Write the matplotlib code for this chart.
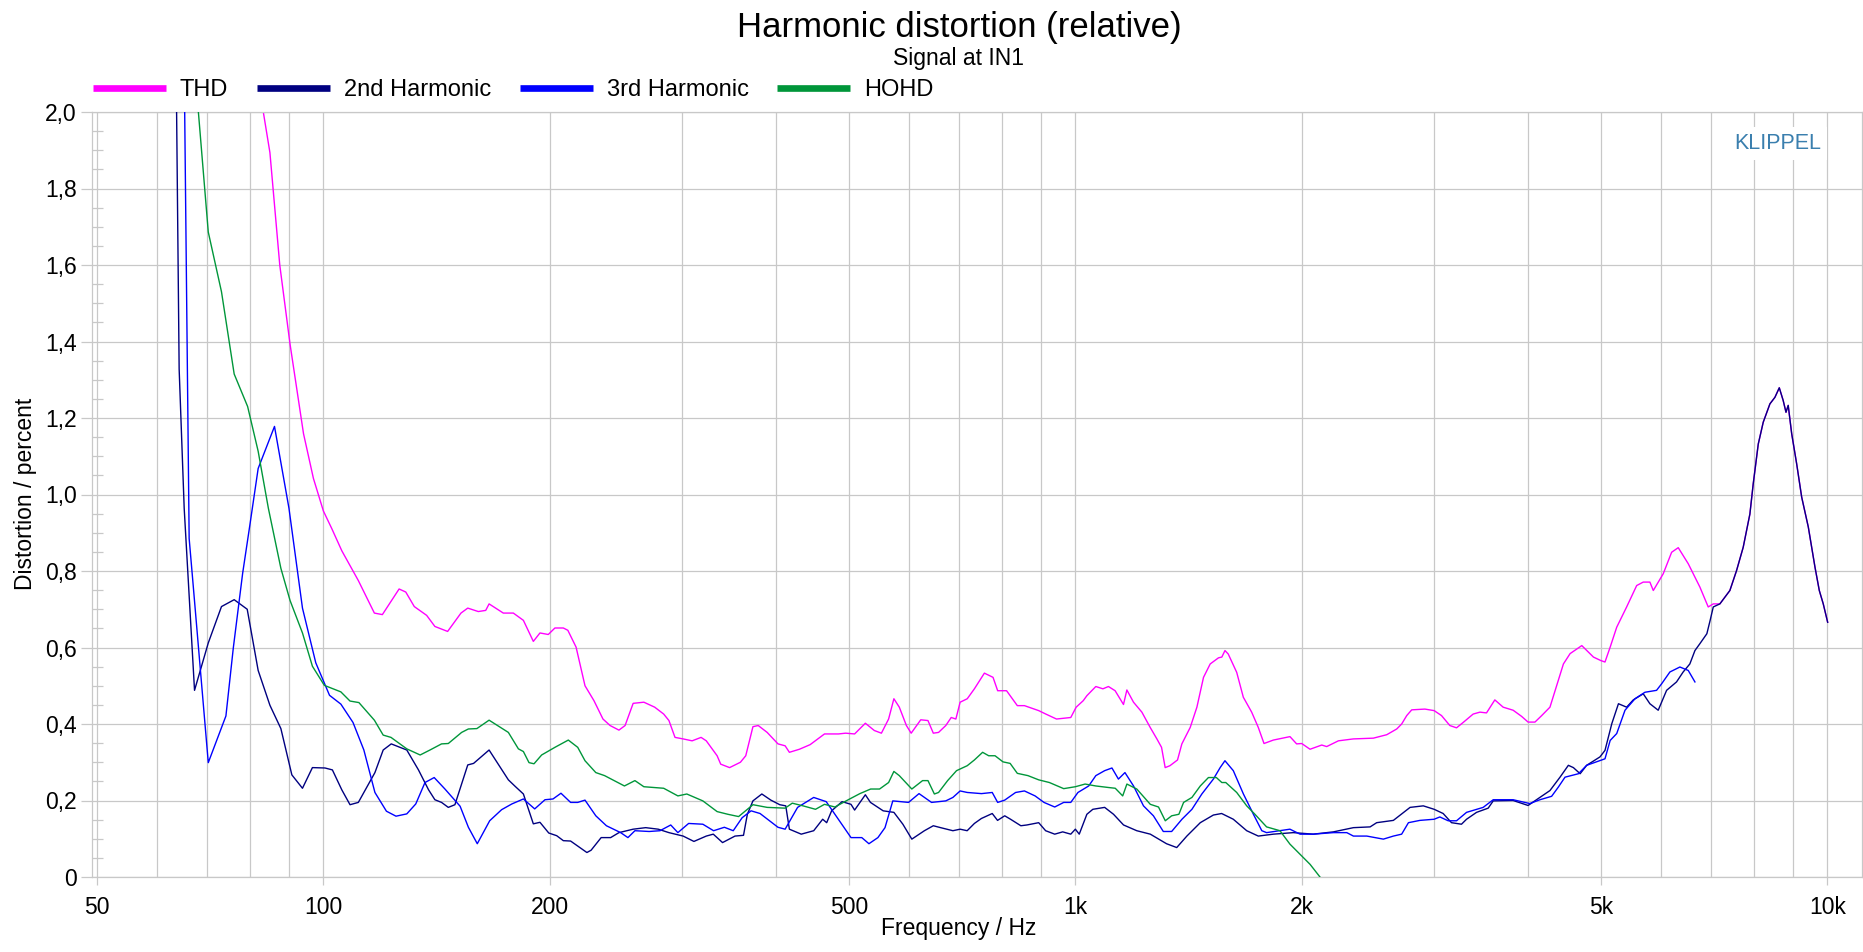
import matplotlib
matplotlib.use("Agg")
import matplotlib.pyplot as plt
from matplotlib.ticker import FixedLocator, FuncFormatter, NullFormatter
from matplotlib.lines import Line2D

plt.rcParams['font.family'] = ['Liberation Sans', 'DejaVu Sans']

# ---------------- data ----------------
title = "Harmonic distortion (relative)"
subtitle = "Signal at IN1"
series_names = ["THD", "2nd Harmonic", "3rd Harmonic", "HOHD"]
series_colors = ["#ff00ff", "#000080", "#0000ff", "#00963a"]

x_major_ticks = [50, 100, 200, 500, 1000, 2000, 5000, 10000]
x_major_labels = ["50", "100", "200", "500", "1k", "2k", "5k", "10k"]
x_minor_ticks = [60, 70, 80, 90, 300, 400, 600, 700, 800, 900,
                 3000, 4000, 6000, 7000, 8000, 9000]
y_major_ticks = [0, 0.2, 0.4, 0.6, 0.8, 1.0, 1.2, 1.4, 1.6, 1.8, 2.0]
y_major_labels = ["0", "0,2", "0,4", "0,6", "0,8", "1,0", "1,2", "1,4", "1,6", "1,8", "2,0"]

thd_freq = [81.5, 83.2, 84.9, 87.5, 90.3, 94.1, 97.0, 100, 102.6, 105.8, 111.3, 116.9, 119.8,
            126.1, 128.7, 132.1, 137.2, 140.7, 146.3, 152.4, 155.6, 160.7, 164.4, 166.1, 173.5,
            178.9, 184.5, 190.2, 194.1, 199.1, 203.2, 208.5, 211.4, 216.8, 222.8, 229.0, 235.4,
            240.6, 247.2, 251.9, 258.2, 266.8, 275.8, 283.5, 288.1, 293.5, 300.9, 309.3, 317.9,
            323.0, 333.9, 337.6, 346.9, 358.6, 364.5, 372.6, 378.7, 389.2, 402.3, 411.2, 416.6,
            429.6, 443.9, 463.9, 484.2, 494.9, 508.7, 525.7, 540.3, 552.2, 564.5, 573.7, 583.3,
            596.1, 604.9, 622.9, 636.8, 647.3, 657.8, 672.5, 683.8, 693.6, 702.7, 718.2, 734.1,
            756.9, 777.2, 788.3, 810.1, 837.2, 855.6, 893.8, 913.5, 943.9, 986.1, 1002.5, 1024.5,
            1035.9, 1064.7, 1088, 1106.6, 1129.5, 1158.8, 1170.9, 1194.9, 1225.9, 1257.6, 1283.6,
            1302, 1316.6, 1336, 1367.3, 1385.6, 1421.5, 1450.9, 1480.6, 1511.2, 1550, 1566,
            1581.1, 1597, 1639, 1672.5, 1715.8, 1751, 1781.9, 1833.6, 1929.4, 1969, 2000, 2051.5,
            2126.5, 2159, 2237.6, 2342.8, 2490.7, 2594.8, 2675.4, 2716, 2758.5, 2801, 2916, 3000,
            3068.6, 3147.8, 3213, 3278.8, 3380.8, 3452, 3522, 3612.7, 3706, 3821, 3921, 4000,
            4085, 4170, 4277, 4388, 4457, 4549, 4715, 4886, 4996, 5062, 5143, 5247, 5409, 5578,
            5691, 5808, 5869, 6051, 6208, 6335, 6532, 6769, 6944, 7052, 7196, 7420, 7573, 7729,
            7889, 7970, 8094, 8218, 8388, 8517, 8632, 8735, 8811, 8871, 8966, 9104, 9245, 9434,
            9629, 9757, 9876, 10010]
thd_val = [2.10, 2.00, 1.894, 1.60, 1.393, 1.159, 1.042, 0.957, 0.911, 0.853, 0.775, 0.690, 0.686,
           0.753, 0.745, 0.707, 0.684, 0.655, 0.642, 0.690, 0.703, 0.694, 0.697, 0.714, 0.690,
           0.690, 0.671, 0.616, 0.638, 0.634, 0.651, 0.651, 0.645, 0.601, 0.500, 0.461, 0.413,
           0.396, 0.384, 0.396, 0.454, 0.457, 0.444, 0.426, 0.409, 0.365, 0.361, 0.356, 0.365,
           0.356, 0.317, 0.295, 0.286, 0.300, 0.317, 0.393, 0.396, 0.378, 0.348, 0.343, 0.326,
           0.334, 0.346, 0.374, 0.374, 0.376, 0.374, 0.402, 0.383, 0.376, 0.413, 0.466, 0.444,
           0.396, 0.376, 0.411, 0.409, 0.376, 0.378, 0.396, 0.417, 0.413, 0.457, 0.466, 0.492,
           0.533, 0.522, 0.487, 0.487, 0.448, 0.448, 0.435, 0.426, 0.413, 0.417, 0.444, 0.461,
           0.474, 0.498, 0.492, 0.498, 0.487, 0.451, 0.489, 0.457, 0.431, 0.391, 0.361,
           0.339, 0.286, 0.291, 0.306, 0.348, 0.391, 0.444, 0.522, 0.557, 0.573, 0.575,
           0.592, 0.583, 0.535, 0.470, 0.431, 0.391, 0.349, 0.358, 0.367, 0.348, 0.349, 0.334,
           0.345, 0.341, 0.356, 0.361, 0.363, 0.372, 0.387, 0.400, 0.422, 0.437, 0.439, 0.435,
           0.422, 0.396, 0.390, 0.404, 0.426, 0.431, 0.429, 0.463, 0.444, 0.436, 0.420, 0.405,
           0.405, 0.422, 0.444, 0.514, 0.557, 0.584, 0.605, 0.575, 0.566, 0.562, 0.601, 0.653,
           0.706, 0.762, 0.771, 0.771, 0.749, 0.793, 0.849, 0.861, 0.819, 0.758, 0.706, 0.714,
           0.714, 0.749, 0.801, 0.862, 0.949, 1.028, 1.132, 1.189, 1.237, 1.254, 1.279, 1.246,
           1.215, 1.233, 1.159, 1.080, 0.993, 0.915, 0.810, 0.749, 0.714, 0.666]

h2_freq = [63.3, 63.8, 64.3, 65.3, 67.4, 70.3, 73.2, 76.1, 79.2, 81.9, 84.9, 87.8, 90.8, 93.8,
           96.7, 100.5, 102.8, 105.8, 108.5, 111.3, 117.1, 120.1, 123.1, 129.1, 133.8, 138.0,
           140.7, 143.6, 146.6, 149.6, 155.6, 158.4, 166.1, 176.2, 179.9, 184.5, 190.2, 194.1,
           199.4, 204.3, 208.5, 213.2, 217.9, 224.1, 227, 234.1, 241, 247.2, 258.2, 268.3, 278.8,
           288.1, 300.9, 311.0, 323.0, 330, 339.5, 352.7, 362, 366.3, 372.6, 382.9, 393.6, 404.5,
           412, 416.6, 432.0, 448.8, 461.3, 467, 474.1, 489.5, 503.1, 508.7, 525.7, 534, 555.2,
           573.7, 589.7, 606.1, 629.9, 647.3, 662, 687.3, 702.7, 718, 734.1, 750, 775.3, 788,
           805.5, 820, 846.3, 862, 893.8, 913, 938.8, 962, 986.1, 1000, 1012, 1035.9, 1055,
           1093.9, 1124, 1159, 1207, 1258, 1322, 1364, 1407, 1466, 1526, 1565, 1622, 1690, 1751,
           1834, 1949, 2072, 2204, 2343, 2466, 2516, 2648, 2787, 2902, 3000, 3084, 3164, 3262,
           3313, 3416, 3540, 3595, 3821, 4000, 4126, 4277, 4411, 4525, 4595, 4691, 4786, 4985,
           5062, 5169, 5275, 5409, 5520, 5691, 5808, 5958, 6113, 6302, 6431, 6564, 6667, 6769,
           6915, 6985, 7052, 7196, 7420, 7573, 7729, 7889, 7970, 8094, 8218, 8388, 8517, 8632,
           8735, 8811, 8871, 8966, 9104, 9245, 9434, 9629, 9757, 9876, 10010]
h2_val = [2.60, 2.00, 1.328, 0.964, 0.488, 0.612, 0.707, 0.725, 0.700, 0.540, 0.449, 0.388, 0.267,
          0.232, 0.286, 0.285, 0.280, 0.228, 0.189, 0.195, 0.273, 0.332, 0.348, 0.332, 0.280, 0.228,
          0.202, 0.195, 0.182, 0.189, 0.293, 0.297, 0.332, 0.254, 0.237, 0.217, 0.139, 0.143,
          0.115, 0.108, 0.095, 0.094, 0.081, 0.064, 0.070, 0.103, 0.103, 0.116, 0.125, 0.129, 0.125,
          0.116, 0.107, 0.093, 0.107, 0.112, 0.090, 0.107, 0.109, 0.164, 0.199, 0.217, 0.201, 0.189,
          0.186, 0.125, 0.112, 0.121, 0.151, 0.142, 0.173, 0.197, 0.190, 0.175, 0.215, 0.195, 0.173,
          0.169, 0.138, 0.099, 0.121, 0.134, 0.129, 0.121, 0.125, 0.121, 0.140, 0.153, 0.166, 0.148,
          0.160, 0.151, 0.134, 0.136, 0.142, 0.121, 0.112, 0.118, 0.112, 0.125, 0.112, 0.164, 0.177,
          0.182, 0.164, 0.136, 0.121, 0.112, 0.087, 0.077, 0.107, 0.142, 0.162, 0.166, 0.151, 0.121,
          0.107, 0.112, 0.116, 0.112, 0.118, 0.129, 0.131, 0.142, 0.148, 0.182, 0.186, 0.177, 0.166,
          0.142, 0.138, 0.151, 0.169, 0.180, 0.199, 0.200, 0.187, 0.205, 0.226, 0.261, 0.292, 0.286,
          0.270, 0.292, 0.314, 0.331, 0.401, 0.453, 0.444, 0.463, 0.479, 0.453, 0.436, 0.488, 0.510,
          0.536, 0.557, 0.592, 0.610, 0.636, 0.671, 0.706, 0.714, 0.749, 0.801, 0.862, 0.949, 1.028,
          1.132, 1.189, 1.237, 1.254, 1.279, 1.246, 1.215, 1.233, 1.159, 1.080, 0.993, 0.915, 0.810,
          0.749, 0.714, 0.666]

h3_freq = [64.8, 65.4, 66.3, 67.0, 70.3, 74.2, 75.9, 78.1, 79.9, 81.9, 86.1, 90.0, 93.8, 97.7,
           101.9, 105.5, 109.5, 113.2, 117.1, 121.3, 124.9, 129.1, 132.7, 136.5, 140.4, 145.1,
           152.0, 155.9, 160.2, 166.4, 172.6, 178.1, 184.5, 191.0, 197.1, 202.0, 207.0, 213.2,
           217.9, 222.8, 230.3, 237.9, 248.5, 254.1, 259.6, 271.2, 280.3, 289.7, 296.1, 306.0,
           319.6, 330.3, 341.4, 350.8, 360.5, 370.5, 380.8, 402.3, 411.2, 427.2, 448.8, 466.3,
           478.9, 503.1, 520, 531.5, 546.3, 558.3, 571.8, 600, 619.6, 643.8, 672.5, 687.3, 702.7,
           718.2, 750.2, 775.3, 788.3, 805.5, 832.8, 855.6, 884.0, 908.4, 938.8, 965, 986.1,
           1008, 1041.7, 1064.7, 1093.9, 1118.6, 1141, 1164, 1195, 1232, 1270, 1309, 1343, 1386,
           1429, 1473, 1526, 1558, 1581, 1622, 1673, 1725, 1770, 1796, 1929, 1990, 2072, 2204,
           2296, 2343, 2441, 2568, 2648, 2716, 2773, 2872, 3000, 3053, 3132, 3213, 3313, 3486,
           3595, 3821, 4021, 4148, 4299, 4388, 4479, 4667, 4786, 5062, 5143, 5247, 5382, 5549,
           5721, 5928, 6020, 6175, 6367, 6532, 6667]
h3_val = [2.60, 2.00, 0.885, 0.781, 0.299, 0.421, 0.599, 0.794, 0.924, 1.068, 1.178, 0.964, 0.703,
          0.560, 0.475, 0.452, 0.404, 0.332, 0.221, 0.172, 0.159, 0.165, 0.191, 0.247, 0.260, 0.230,
          0.185, 0.130, 0.087, 0.147, 0.176, 0.191, 0.204, 0.178, 0.202, 0.204, 0.219, 0.195,
          0.195, 0.201, 0.160, 0.134, 0.116, 0.103, 0.121, 0.119, 0.121, 0.136, 0.116, 0.140,
          0.138, 0.121, 0.130, 0.121, 0.155, 0.173, 0.166, 0.130, 0.125, 0.182, 0.208, 0.197,
          0.164, 0.103, 0.103, 0.087, 0.103, 0.129, 0.199, 0.195, 0.218, 0.195, 0.199, 0.208, 0.225,
          0.221, 0.218, 0.221, 0.195, 0.201, 0.221, 0.225, 0.212, 0.195, 0.183, 0.195, 0.195,
          0.221, 0.238, 0.265, 0.278, 0.285, 0.256, 0.273, 0.238, 0.186, 0.160, 0.119, 0.119, 0.151,
          0.177, 0.217, 0.256, 0.286, 0.304, 0.278, 0.217, 0.164, 0.121, 0.116, 0.125, 0.112, 0.112,
          0.116, 0.116, 0.107, 0.107, 0.099, 0.107, 0.112, 0.142, 0.148, 0.151, 0.157, 0.147, 0.147,
          0.169, 0.182, 0.202, 0.202, 0.192, 0.202, 0.211, 0.235, 0.261, 0.270, 0.292, 0.309, 0.357,
          0.375, 0.436, 0.466, 0.483, 0.488, 0.505, 0.536, 0.549, 0.540, 0.510]

hohd_freq = [66.0, 68.2, 70.3, 73.2, 76.1, 79.3, 81.9, 84.5, 87.8, 90.3, 93.8, 96.7, 100.3, 105.5,
             108.5, 111.5, 116.9, 120.1, 123.0, 129.1, 134.5, 138.6, 143.6, 146.6, 152.7, 155.9,
             160.0, 166.1, 176.2, 181.7, 184.5, 187.7, 190.6, 195.1, 203.2, 211.7, 217.9, 222.8,
             230.3, 236.6, 251.4, 259.6, 266.8, 283.5, 296.1, 304.3, 319.6, 333.9, 345.0, 356.6,
             372.6, 389.2, 411.2, 420.3, 434.4, 451.3, 463.9, 478.9, 500, 517.0, 534.3, 549.1,
             564.5, 573.7, 583.3, 606.1, 626.4, 636.8, 649.4, 657.8, 676.3, 695.0, 718.2, 734.1,
             752.8, 766.9, 782, 801.3, 819, 837.2, 865, 893.8, 923.6, 965, 1000, 1030.3, 1064.7,
             1106.6, 1130, 1156, 1171, 1207, 1258, 1290, 1317, 1343, 1373, 1393, 1429, 1466, 1503,
             1540, 1566, 1585, 1639, 1690, 1733, 1796, 1871, 1929, 2000, 2052, 2115]
hohd_val = [2.40, 2.00, 1.686, 1.530, 1.315, 1.230, 1.113, 0.964, 0.807, 0.723, 0.638, 0.551, 0.501,
            0.484, 0.460, 0.456, 0.410, 0.371, 0.365, 0.335, 0.319, 0.332, 0.348, 0.349, 0.378, 0.387,
            0.388, 0.410, 0.378, 0.335, 0.328, 0.299, 0.296, 0.319, 0.339, 0.358, 0.339, 0.304,
            0.273, 0.265, 0.238, 0.252, 0.236, 0.232, 0.212, 0.217, 0.199, 0.171, 0.164, 0.158,
            0.189, 0.182, 0.180, 0.193, 0.186, 0.177, 0.190, 0.183, 0.203, 0.218, 0.230, 0.230,
            0.247, 0.276, 0.265, 0.230, 0.252, 0.252, 0.217, 0.221, 0.252, 0.278, 0.291, 0.306,
            0.326, 0.317, 0.317, 0.301, 0.297, 0.271, 0.265, 0.254, 0.247, 0.231, 0.236, 0.243, 0.238,
            0.234, 0.232, 0.212, 0.243, 0.230, 0.190, 0.183, 0.147, 0.160, 0.164, 0.195, 0.208, 0.238,
            0.260, 0.260, 0.247, 0.247, 0.221, 0.186, 0.164, 0.131, 0.121, 0.086, 0.055, 0.033, 0.0]

# ---------------- figure ----------------
W, H = 1863, 952
fig = plt.figure(figsize=(W / 100, H / 100), dpi=100)
ax = fig.add_axes([92 / W, (H - 877) / H, 1770 / W, 765 / H])

grid_col = "#c8c8c8"
series = [(thd_freq, thd_val), (h2_freq, h2_val), (h3_freq, h3_val), (hohd_freq, hohd_val)]
zorders = [2, 3, 4, 5]
for (fx, fy), name, col, z in zip(series, series_names, series_colors, zorders):
    ax.plot(fx, fy, color=col, lw=1.0, zorder=z, label=name)

ax.set_xscale("log")
ax.set_xlim(49.24, 11120)
ax.set_ylim(0, 2.0)

ax.xaxis.set_major_locator(FixedLocator(x_major_ticks))
ax.xaxis.set_major_formatter(FuncFormatter(lambda v, p: x_major_labels[x_major_ticks.index(int(round(v)))]
                                            if int(round(v)) in x_major_ticks else ""))
ax.xaxis.set_minor_locator(FixedLocator(x_minor_ticks))
ax.xaxis.set_minor_formatter(NullFormatter())
ax.yaxis.set_major_locator(FixedLocator(y_major_ticks))
ax.yaxis.set_major_formatter(FuncFormatter(lambda v, p: y_major_labels[int(round(v / 0.2))]))
ax.yaxis.set_minor_locator(FixedLocator([i * 0.05 for i in range(41) if i % 4 != 0]))

ax.grid(True, which="major", axis="both", color=grid_col, lw=0.9, zorder=0)
ax.grid(True, which="minor", axis="x", color=grid_col, lw=0.9, zorder=0)
ax.set_axisbelow(True)

ax.tick_params(axis="x", which="major", direction="out", length=6, color=grid_col,
               labelsize=16.5, pad=8, width=0.9)
ax.tick_params(axis="x", which="minor", length=0)
ax.tick_params(axis="y", which="major", direction="out", length=8, color=grid_col,
               labelsize=16.5, pad=3, width=0.9)
ax.tick_params(axis="y", which="minor", direction="in", length=8, color=grid_col, width=0.9)

for s in ax.spines.values():
    s.set_color(grid_col)
    s.set_linewidth(0.9)

# titles and labels
fig.text(959 / W, 1 - 36.7 / H, title, ha="center", va="baseline", fontsize=25)
fig.text(959 / W, 1 - 65 / H, subtitle, ha="center", va="baseline", fontsize=16.5)
fig.text(959 / W, 1 - 929 / H, "Frequency / Hz", ha="center", va="center", fontsize=16.5)
fig.text(26 / W, 1 - 494 / H, "Distortion / percent", ha="center", va="center",
         rotation=90, fontsize=16.5)

# legend
handles = [Line2D([0], [0], color=c, lw=4.8, solid_capstyle="butt") for c in series_colors]
fig.legend(handles, series_names, loc="center left", bbox_to_anchor=(92.5 / W, 1 - 90.5 / H),
           bbox_transform=fig.transFigure, ncol=4, frameon=False, fontsize=17,
           handlelength=3.1, handletextpad=0.6, columnspacing=1.2, borderpad=0,
           borderaxespad=0)

# watermark
fig.text(1778 / W, 1 - 143.5 / H, "KLIPPEL", ha="center", va="center", fontsize=15.5,
         color="#3a7fae",
         bbox=dict(facecolor="white", edgecolor="none", pad=4))

fig.savefig("out.png", dpi=100)
